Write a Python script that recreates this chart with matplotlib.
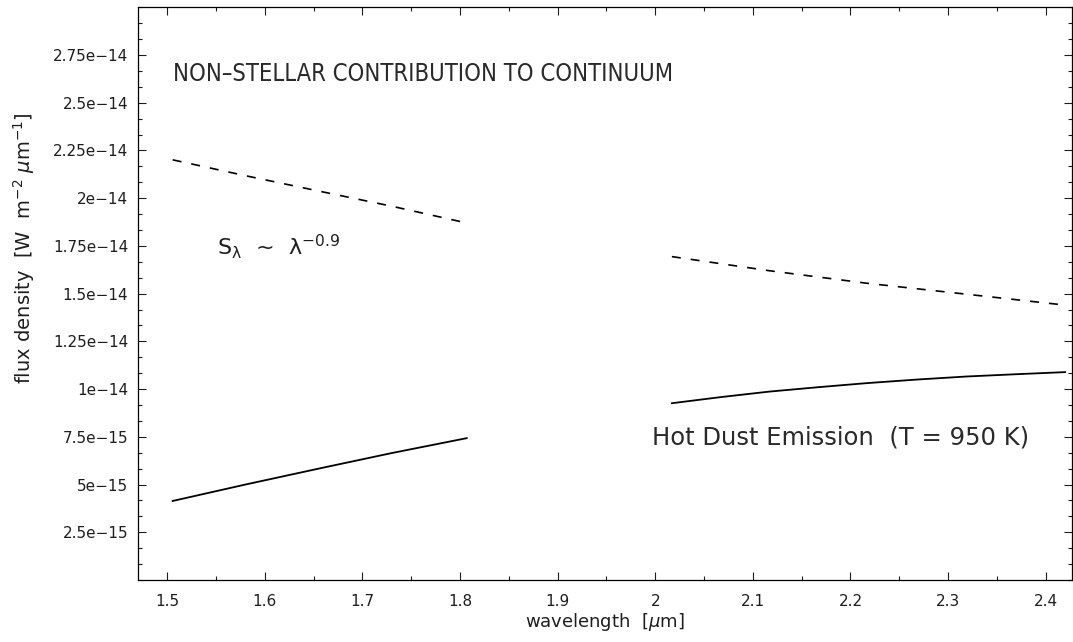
import numpy as np
import matplotlib
matplotlib.use('Agg')
import matplotlib.pyplot as plt
from matplotlib.ticker import MultipleLocator

# power-law continuum (S ~ lambda^-0.9), H and K band pieces
pl_h_wave = [1.5055, 1.5800, 1.6565, 1.7300, 1.8000]
pl_h_flux = [2.201e-14, 2.118e-14, 2.036e-14, 1.958e-14, 1.878e-14]
pl_k_wave = [2.017, 2.117, 2.216, 2.319, 2.420]
pl_k_flux = [1.694e-14, 1.620e-14, 1.555e-14, 1.497e-14, 1.440e-14]

# hot dust emission, T = 950 K
hd_h_wave = [1.5055, 1.5800, 1.6565, 1.7300, 1.8068]
hd_h_flux = [0.414e-14, 0.500e-14, 0.585e-14, 0.665e-14, 0.743e-14]
hd_k_wave = [2.017, 2.067, 2.117, 2.167, 2.216, 2.268, 2.319, 2.370, 2.420]
hd_k_flux = [0.926e-14, 0.958e-14, 0.987e-14, 1.010e-14, 1.031e-14,
             1.050e-14, 1.066e-14, 1.078e-14, 1.089e-14]

y_ticks = [2.5e-15, 5e-15, 7.5e-15, 1e-14, 1.25e-14, 1.5e-14, 1.75e-14,
           2e-14, 2.25e-14, 2.5e-14, 2.75e-14]
y_labels = ['2.5e\u221215', '5e\u221215', '7.5e\u221215', '1e\u221214',
            '1.25e\u221214', '1.5e\u221214', '1.75e\u221214', '2e\u221214',
            '2.25e\u221214', '2.5e\u221214', '2.75e\u221214']
x_ticks = [1.5, 1.6, 1.7, 1.8, 1.9, 2.0, 2.1, 2.2, 2.3, 2.4]
x_labels = ['1.5', '1.6', '1.7', '1.8', '1.9', '2', '2.1', '2.2', '2.3', '2.4']

plt.rcParams['font.family'] = ['DejaVu Sans']
plt.rcParams['mathtext.fontset'] = 'dejavusans'

ink = '#1e1e1e'

fig = plt.figure(figsize=(10.73, 6.42), dpi=100)
ax = fig.add_axes([138 / 1073, 62 / 642, 934 / 1073, 572.7 / 642])

dash = (5.4, 6.0)
ax.plot(pl_h_wave, pl_h_flux, color='black', lw=1.2, linestyle=(0, dash))
ax.plot(pl_k_wave, pl_k_flux, color='black', lw=1.2, linestyle=(0, dash))
ax.plot(hd_h_wave, hd_h_flux, color='black', lw=1.3)
ax.plot(hd_k_wave, hd_k_flux, color='black', lw=1.3)

ax.set_xlim(1.47, 2.427)
ax.set_ylim(0, 3.0e-14)

ax.set_xticks(x_ticks)
ax.set_xticklabels(x_labels)
ax.xaxis.set_minor_locator(MultipleLocator(0.05))
ax.set_yticks(y_ticks)
ax.set_yticklabels(y_labels)
ax.yaxis.set_minor_locator(MultipleLocator(0.25e-14 / 3))

ax.tick_params(which='both', direction='in', top=True, right=True,
               width=0.8, labelsize=11, colors=ink)
ax.tick_params(which='major', length=6)
ax.tick_params(axis='x', which='major', pad=10)
ax.tick_params(axis='y', which='major', pad=7)
ax.tick_params(which='minor', length=3)
for s in ax.spines.values():
    s.set_linewidth(0.9)

ax.set_xlabel('wavelength  [$\\mu$m]', fontsize=13, color=ink)
ax.set_ylabel('flux density  [W  m$^{-2}$ $\\mu$m$^{-1}$]', fontsize=14,
              color=ink)
ax.yaxis.set_label_coords(-0.108, 0.58)
ax.xaxis.set_label_coords(0.5, -0.054)

ax.text(0.037, 0.884, 'NON\u2013STELLAR CONTRIBUTION TO CONTINUUM',
        transform=ax.transAxes, fontsize=17, fontstretch='condensed',
        fontweight='light', va='center', ha='left', color='#2a2a2a')
ax.text(1.5506, 1.703e-14,
        '$\\mathregular{S_{\\lambda}}$  ~  $\\mathregular{\\lambda^{-0.9}}$',
        fontsize=16, color=ink, ha='left', va='baseline')
ax.text(2.190, 0.749e-14, 'Hot Dust Emission  (T = 950 K)',
        fontsize=17.5, color='#2a2a2a', ha='center', va='center')

fig.savefig('out.png', dpi=100)
